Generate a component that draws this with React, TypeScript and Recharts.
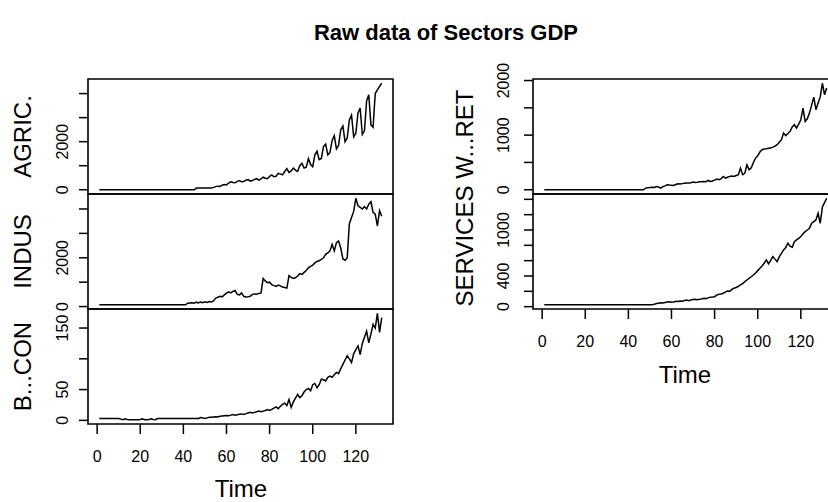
import React from 'react';
import { LineChart, Line, XAxis, YAxis, ReferenceArea } from 'recharts';

// quarterly series, t = 1..132 (one value per quarter)
const agric = [
  0, 0, 0, 0, 0, 0, 0, 0, 0, 0, 0, 0,
  0, 0, 0, 0, 0, 0, 0, 0, 0, 0, 0, 0,
  0, 0, 0, 0, 0, 0, 0, 0, 0, 0, 0, 0,
  0, 0, 0, 0, 0, 0, 0, 0, 0, 70, 70, 70,
  70, 70, 70, 70, 70, 100, 130, 150, 140, 190, 220, 200,
  280, 330, 300, 290, 350, 380, 330, 340, 400, 420, 360, 380,
  430, 460, 400, 450, 520, 480, 460, 560, 620, 540, 560, 680,
  660, 620, 760, 880, 720, 780, 900, 820, 760, 1000, 1100, 900,
  940, 1300, 1050, 960, 1450, 1600, 1250, 1300, 1800, 1900, 1450, 1550,
  2050, 2250, 1700, 1850, 2500, 2650, 2000, 2150, 2900, 3100, 2200, 2350,
  3200, 3400, 2300, 2450, 3700, 3950, 2700, 2600, 4000, 4150, 4300, 4430,
];

const indus = [
  75, 75, 75, 75, 75, 75, 75, 75, 75, 75, 75, 75,
  75, 75, 75, 75, 75, 75, 75, 75, 75, 75, 75, 75,
  75, 75, 75, 75, 75, 75, 75, 75, 75, 75, 75, 75,
  75, 75, 75, 75, 75, 140, 150, 160, 140, 180, 150, 190,
  160, 200, 170, 210, 190, 230, 350, 380, 420, 400, 480, 550,
  600, 560, 620, 660, 500, 480, 560, 420, 390, 400, 420, 500,
  520, 510, 540, 550, 1150, 1050, 980, 1000, 900, 860, 830, 880,
  850, 800, 780, 760, 1270, 1200, 1150, 1180, 1250, 1350, 1320, 1400,
  1480, 1590, 1650, 1700, 1790, 1850, 1880, 1930, 2000, 2140, 2200, 2280,
  2550, 2280, 2620, 2690, 2400, 1950, 1900, 2000, 3400, 3650, 3900, 4440,
  4130, 4070, 4000, 4100, 4000, 4200, 4300, 3860, 3790, 3310, 3930, 3700,
];

const bcon = [
  3, 3, 3, 3, 3, 3, 3, 3, 3, 3, 2, 1,
  2.5, 1.5, 1, 1, 1, 1, 1, 1.5, 2.5, 1, 1, 1.5,
  2.5, 1.5, 1, 3, 3, 3, 3, 3, 3, 3, 3, 3,
  3, 3, 3, 3, 3, 3, 3, 3, 3, 3, 3, 4.5,
  4, 3, 4, 5, 5, 5.5, 6, 5.5, 6.5, 7, 7.5, 8,
  7.5, 8.5, 9.5, 8.5, 9, 10, 10.5, 9.5, 11, 12, 13, 12,
  13, 14, 15, 14, 15, 16, 17.5, 16, 18, 20, 22, 19,
  23, 26, 28, 24, 34, 21, 30, 36, 42, 37, 40, 46,
  50, 52, 48, 58, 60, 53, 58, 67, 66, 64, 70, 72,
  70, 74, 78, 76, 84, 91, 98, 105, 100, 94, 108, 115,
  121, 107, 125, 135, 145, 126, 140, 156, 150, 174, 143, 167,
];

const servicesWRet = [
  0, 0, 0, 0, 0, 0, 0, 0, 0, 0, 0, 0,
  0, 0, 0, 0, 0, 0, 0, 0, 0, 0, 0, 0,
  0, 0, 0, 0, 0, 0, 0, 0, 0, 0, 0, 0,
  0, 0, 0, 0, 0, 0, 0, 0, 0, 0, 0, 30,
  35, 40, 45, 42, 60, 50, 30, 55, 70, 92, 85, 80,
  79, 95, 110, 104, 112, 118, 122, 125, 130, 140, 134, 138,
  145, 146, 150, 148, 170, 152, 159, 175, 196, 183, 200, 244,
  214, 230, 244, 250, 244, 260, 275, 397, 275, 300, 458, 366,
  400, 500, 580, 620, 690, 733, 745, 750, 760, 763, 780, 800,
  824, 870, 916, 1038, 989, 1030, 1068, 1150, 1190, 1130, 1200, 1282,
  1496, 1251, 1300, 1404, 1550, 1697, 1465, 1587, 1700, 1950, 1740, 1862,
];

const servicesOther = [
  25, 25, 25, 25, 25, 25, 25, 25, 25, 25, 25, 25,
  25, 25, 25, 25, 25, 25, 25, 25, 25, 25, 25, 25,
  25, 25, 25, 25, 25, 25, 25, 25, 25, 25, 25, 25,
  25, 25, 25, 25, 25, 25, 25, 25, 25, 25, 25, 25,
  25, 25, 25, 30, 40, 45, 50, 48, 55, 60, 65, 58,
  62, 70, 68, 75, 72, 80, 85, 78, 88, 92, 95, 90,
  96, 100, 110, 105, 115, 123, 125, 130, 150, 162, 165, 175,
  190, 205, 200, 225, 240, 250, 265, 283, 300, 326, 348, 370,
  390, 413, 440, 470, 501, 530, 566, 610, 560, 600, 653, 620,
  587, 650, 696, 740, 770, 827, 790, 775, 848, 870, 890, 914,
  950, 979, 1000, 1023, 1088, 1110, 1131, 1219, 1088, 1300, 1357, 1414,
];

const timeTicks = [0, 20, 40, 60, 80, 100, 120];
const agricTicks = [0, 1000, 2000, 3000, 4000];
const agricLabels = [0, 2000];
const indusTicks = [0, 1000, 2000, 3000, 4000];
const indusLabels = [0, 2000];
const bconTicks = [0, 50, 100, 150];
const bconLabels = [0, 50, 150];
const servWTicks = [0, 500, 1000, 1500, 2000];
const servWLabels = [0, 1000, 2000];
const servOTicks = [0, 200, 400, 600, 800, 1000, 1200, 1400];
const servOLabels = [0, 400, 1000];

const FONT = '"Liberation Sans", Arial, Helvetica, sans-serif';
const CW = 850;
const CH = 502;
const BOX_W = 305;

const YTick = (props: any) => {
  const { x, y, payload, shown } = props;
  if (!shown.includes(payload.value)) return null;
  return (
    <text x={x} y={y} transform={`rotate(-90, ${x}, ${y})`} textAnchor="middle"
      fontSize={16} fontFamily={FONT} fill="#000">
      {payload.value}
    </text>
  );
};

const XTick = (props: any) => {
  const { x, y, payload } = props;
  return (
    <text x={x} y={y} textAnchor="middle" fontSize={16} fontFamily={FONT} fill="#000">
      {payload.value}
    </text>
  );
};

const Panel = ({ values, left, top, bottom, ticks, shown, showTime, gap }: any) => {
  const rows = values.map((v: number, i: number) => ({ t: i + 1, v }));
  const n = values.length;
  const xPad = (n - 1) * 0.04;
  const xDomain = [1 - xPad, n + xPad];
  const lo = Math.min(...values);
  const hi = Math.max(...values);
  const yPad = (hi - lo) * 0.04;
  const yDomain = [lo - yPad, hi + yPad];
  const yW = 60;
  const xH = 40;
  const margin = {
    top,
    left: left - yW,
    right: CW - (left + BOX_W),
    bottom: CH - bottom - (showTime ? xH : 0),
  };
  return (
    <div style={{ position: 'absolute', left: 0, top: 0 }}>
      <LineChart width={CW} height={CH} data={rows} margin={margin}>
        <XAxis type="number" dataKey="t" domain={xDomain} allowDataOverflow ticks={timeTicks}
          interval={0} hide={!showTime} height={xH} tickSize={10} tickMargin={28}
          axisLine={false} tickLine={{ stroke: '#000', strokeWidth: 1.5 }} tick={<XTick />} />
        <YAxis type="number" domain={yDomain} allowDataOverflow ticks={ticks} interval={0}
          width={yW} tickSize={9} tickMargin={gap - 9} axisLine={false}
          tickLine={{ stroke: '#000', strokeWidth: 1.5 }} tick={<YTick shown={shown} />} />
        <ReferenceArea x1={xDomain[0]} x2={xDomain[1]} y1={yDomain[0]} y2={yDomain[1]}
          fill="none" fillOpacity={0} stroke="#000" strokeWidth={1.6} strokeOpacity={1} ifOverflow="visible" />
        <Line type="linear" dataKey="v" stroke="#000" strokeWidth={1.5} dot={false}
          activeDot={false} isAnimationActive={false} />
      </LineChart>
    </div>
  );
};

const App: React.FC = () => {
  const txt = { fontFamily: FONT, fill: '#000' };
  return (
    <div style={{ position: 'relative', width: 828, height: 502, overflow: 'hidden', background: '#fff' }}>
      <style>{'body{margin:0}'}</style>
      <Panel values={agric} left={88} top={79} bottom={194} ticks={agricTicks} shown={agricLabels} gap={20} />
      <Panel values={indus} left={88} top={194} bottom={309} ticks={indusTicks} shown={indusLabels} gap={20} />
      <Panel values={bcon} left={88} top={309} bottom={424} ticks={bconTicks} shown={bconLabels} gap={20} showTime />
      <Panel values={servicesWRet} left={533} top={79} bottom={194} ticks={servWTicks} shown={servWLabels} gap={24} />
      <Panel values={servicesOther} left={533} top={194} bottom={309} ticks={servOTicks} shown={servOLabels} gap={24} showTime />
      <svg width={828} height={502} style={{ position: 'absolute', left: 0, top: 0, pointerEvents: 'none' }}>
        <text x={446} y={40} textAnchor="middle" fontSize={22} fontWeight="bold" {...txt}>
          Raw data of Sectors GDP
        </text>
        <text x={31} y={136.5} transform="rotate(-90, 31, 136.5)" textAnchor="middle" fontSize={24} {...txt}>AGRIC.</text>
        <text x={31} y={251.5} transform="rotate(-90, 31, 251.5)" textAnchor="middle" fontSize={24} {...txt}>INDUS</text>
        <text x={31} y={366.5} transform="rotate(-90, 31, 366.5)" textAnchor="middle" fontSize={24} {...txt}>B...CON</text>
        <text x={473} y={198} transform="rotate(-90, 473, 198)" textAnchor="middle" fontSize={24} {...txt}>SERVICES W...RET</text>
        <text x={241} y={497} textAnchor="middle" fontSize={24} {...txt}>Time</text>
        <text x={685} y={383} textAnchor="middle" fontSize={24} {...txt}>Time</text>
      </svg>
    </div>
  );
};

export default App;
